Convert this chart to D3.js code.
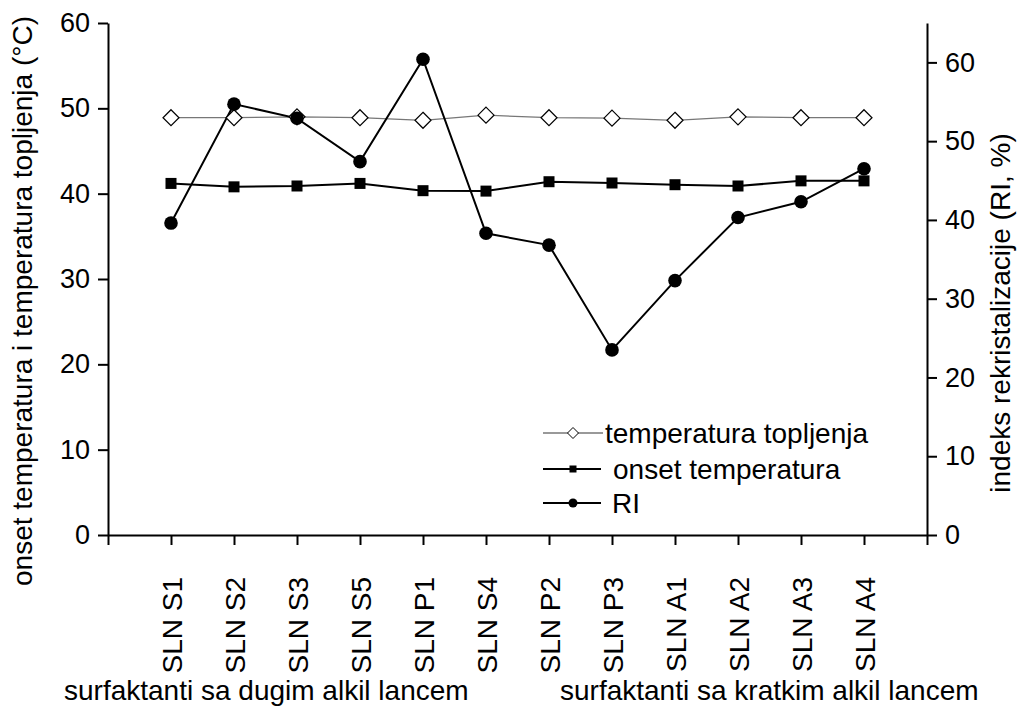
<!DOCTYPE html>
<html><head><meta charset="utf-8">
<script src="https://cdn.jsdelivr.net/npm/d3@7"></script>
<style>
body{margin:0;background:#fff;}
svg text{font-family:"Liberation Sans",Arial,sans-serif;fill:#000;}
</style></head>
<body><svg id="c" width="1017" height="708"></svg>
<script>
const categories = ["SLN S1","SLN S2","SLN S3","SLN S5","SLN P1","SLN S4","SLN P2","SLN P3","SLN A1","SLN A2","SLN A3","SLN A4"];
const temperaturaTopljenja = [48.9,48.9,49.0,48.9,48.6,49.2,48.9,48.85,48.6,49.0,48.9,48.9];
const onsetTemperatura = [41.2,40.8,40.9,41.2,40.35,40.3,41.4,41.25,41.05,40.9,41.5,41.5];
const RI = [39.6,54.7,52.9,47.4,60.4,38.3,36.8,23.5,32.3,40.3,42.3,46.5];
const leftTicks = [0,10,20,30,40,50,60];
const rightTicks = [0,10,20,30,40,50,60];
const groupLabels = ["surfaktanti sa dugim alkil lancem","surfaktanti sa kratkim alkil lancem"];
const leftTitle = "onset temperatura i temperatura topljenja (°C)";
const rightTitle = "indeks rekristalizacije (RI, %)";
const legendLabels = ["temperatura topljenja","onset temperatura","RI"];

const svg = d3.select("#c");
const L = 108, R = 927, B = 535, T = 23;
const x = d3.scaleLinear().domain([0, categories.length + 1]).range([L, R]);
const yL = d3.scaleLinear().domain([0, 60]).range([B, T]);
const yR = d3.scaleLinear().domain([0, 65]).range([B, T]);
const FS = 28, TFS = 27;
const FF = '"Liberation Sans",Arial,sans-serif';

// x axis
const xAxis = d3.axisBottom(x).tickValues(d3.range(0, categories.length + 2))
  .tickSize(10).tickSizeOuter(0)
  .tickFormat(d => (d >= 1 && d <= categories.length) ? categories[d - 1] : "");
const gx = svg.append("g").attr("transform", `translate(0,${B})`).call(xAxis);
gx.selectAll("text").attr("transform", "rotate(-90)").attr("x", -42).attr("y", 0)
  .attr("dy", "0.36em").attr("text-anchor", "end").style("font-size", FS + "px")
  .style("font-family", FF);

// left axis
const gl = svg.append("g").attr("transform", `translate(${L},0)`)
  .call(d3.axisLeft(yL).tickValues(leftTicks).tickSize(10).tickSizeOuter(0).tickPadding(8));
gl.selectAll("text").style("font-size", TFS + "px").style("font-family", FF);
// right axis
const gr = svg.append("g").attr("transform", `translate(${R},0)`)
  .call(d3.axisRight(yR).tickValues(rightTicks).tickSize(10).tickSizeOuter(0).tickPadding(8));
gr.selectAll("text").style("font-size", TFS + "px").style("font-family", FF);

svg.selectAll(".domain, .tick line").attr("stroke", "#000").attr("stroke-width", 2);

// titles
svg.append("text").attr("transform", `translate(22,301) rotate(-90)`).attr("text-anchor", "middle")
  .attr("dy", "0.35em").style("font-size", FS + "px").text(leftTitle);
svg.append("text").attr("transform", `translate(1000,313) rotate(-90)`).attr("text-anchor", "middle")
  .attr("dy", "0.35em").style("font-size", FS + "px").text(rightTitle);
svg.append("text").attr("x", 64).attr("y", 700).attr("text-anchor", "start")
  .style("font-size", FS + "px").text(groupLabels[0]);
svg.append("text").attr("x", 560).attr("y", 700).attr("text-anchor", "start")
  .style("font-size", FS + "px").text(groupLabels[1]);

// series
const idx = d3.range(categories.length);
const line = (arr, ys) => d3.line().x(i => x(i + 1)).y(i => ys(arr[i]))(idx);
svg.append("path").attr("d", line(temperaturaTopljenja, yL)).attr("fill", "none").attr("stroke", "#777").attr("stroke-width", 1.3);
svg.append("path").attr("d", line(onsetTemperatura, yL)).attr("fill", "none").attr("stroke", "#000").attr("stroke-width", 2);
svg.append("path").attr("d", line(RI, yR)).attr("fill", "none").attr("stroke", "#000").attr("stroke-width", 2);

const diamond = (cx, cy, r) => `M${cx},${cy - r}L${cx + r},${cy}L${cx},${cy + r}L${cx - r},${cy}Z`;
svg.append("g").selectAll("path").data(idx).join("path")
  .attr("d", i => diamond(x(i + 1), yL(temperaturaTopljenja[i]), 8))
  .attr("fill", "#fff").attr("stroke", "#000").attr("stroke-width", 1.2);
svg.append("g").selectAll("rect").data(idx).join("rect")
  .attr("x", i => x(i + 1) - 5.5).attr("y", i => yL(onsetTemperatura[i]) - 5.5)
  .attr("width", 11).attr("height", 11).attr("fill", "#000");
svg.append("g").selectAll("circle").data(idx).join("circle")
  .attr("cx", i => x(i + 1)).attr("cy", i => yR(RI[i])).attr("r", 6.8).attr("fill", "#000");

// legend
const lg = svg.append("g");
const ly = [433, 469, 503];
lg.append("line").attr("x1", 543).attr("x2", 603).attr("y1", ly[0]).attr("y2", ly[0]).attr("stroke", "#777").attr("stroke-width", 1.3);
lg.append("path").attr("d", diamond(573, ly[0], 5.5)).attr("fill", "#fff").attr("stroke", "#000").attr("stroke-width", 1);
lg.append("line").attr("x1", 543).attr("x2", 601).attr("y1", ly[1]).attr("y2", ly[1]).attr("stroke", "#000").attr("stroke-width", 2);
lg.append("rect").attr("x", 569.5).attr("y", ly[1] - 3.5).attr("width", 7).attr("height", 7).attr("fill", "#000");
lg.append("line").attr("x1", 543).attr("x2", 601).attr("y1", ly[2]).attr("y2", ly[2]).attr("stroke", "#000").attr("stroke-width", 2);
lg.append("circle").attr("cx", 573).attr("cy", ly[2]).attr("r", 4.5).attr("fill", "#000");
const lx = [605, 613, 612];
legendLabels.forEach((t, k) => lg.append("text").attr("x", lx[k]).attr("y", ly[k]).attr("dy", "0.35em")
  .style("font-size", FS + "px").text(t));
</script></body></html>
